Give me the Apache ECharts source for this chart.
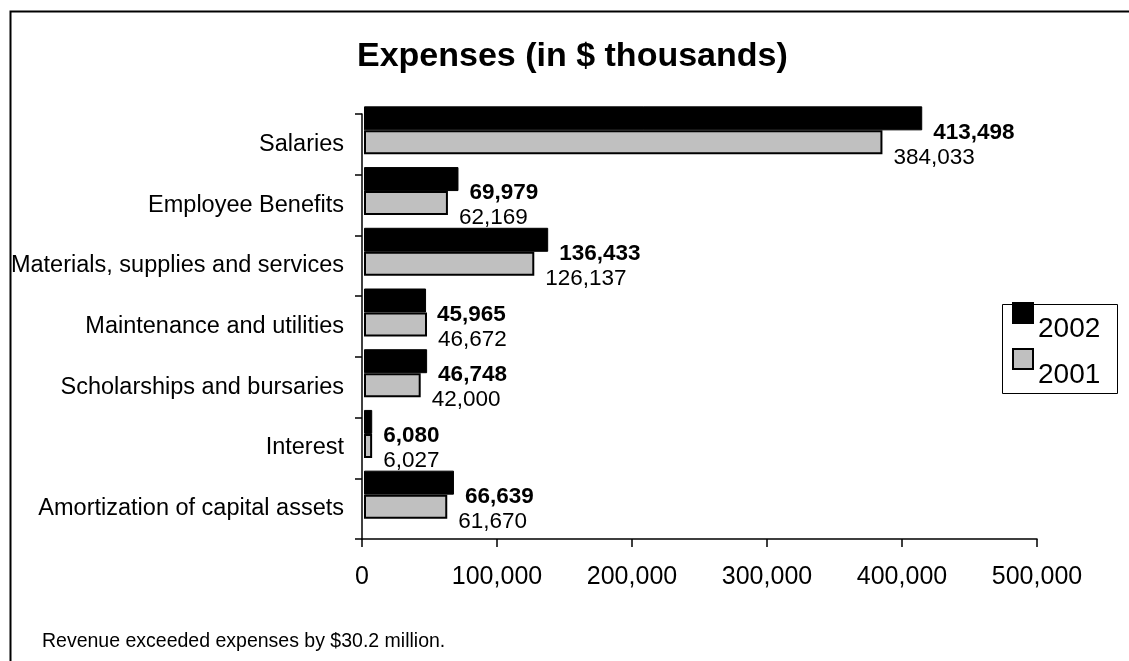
<!DOCTYPE html>
<html>
<head>
<meta charset="utf-8">
<script src="https://cdn.jsdelivr.net/npm/echarts@6/dist/echarts.min.js"></script>
<style>
html,body{margin:0;padding:0;background:#fff;}
#chart{width:1129px;height:661px;}
</style>
</head>
<body>
<div id="chart"></div>
<script>
const categories = ["Salaries","Employee Benefits","Materials, supplies and services","Maintenance and utilities","Scholarships and bursaries","Interest","Amortization of capital assets"];
const values2002 = [413498, 69979, 136433, 45965, 46748, 6080, 66639];
const values2001 = [384033, 62169, 126137, 46672, 42000, 6027, 61670];
const seriesNames = ["2002", "2001"];
const xTicks = [0, 100000, 200000, 300000, 400000, 500000];
const titleText = "Expenses (in $ thousands)";
const footnote = "Revenue exceeded expenses by $30.2 million.";

const FONT = "'Liberation Sans', Arial, Helvetica, sans-serif";
const fmt = v => Number(v).toLocaleString('en-US');

const chart = echarts.init(document.getElementById('chart'), null, {renderer: 'canvas'});
chart.setOption({
  backgroundColor: '#fff',
  animation: false,
  textStyle: {fontFamily: FONT, color: '#000'},
  title: [
    {text: titleText, left: 357, top: 40, padding: 0,
     textStyle: {fontFamily: FONT, fontSize: 34, fontWeight: 'bold', color: '#000'}},
    {text: footnote, left: 42, top: 632, padding: 0,
     textStyle: {fontFamily: FONT, fontSize: 19.5, fontWeight: 'normal', color: '#000'}}
  ],
  graphic: [
    {type: 'rect', left: 8, top: 9, z: -1, silent: true,
     shape: {x: 0, y: 0, width: 1300, height: 800},
     style: {fill: null, stroke: '#000', lineWidth: 2}},
    {type: 'rect', left: 1000, top: 302, z: -1, silent: true,
     shape: {x: 0, y: 0, width: 115, height: 89},
     style: {fill: null, stroke: '#000', lineWidth: 1}}
  ],
  legend: {
    orient: 'vertical', left: 1012, top: 302,
    padding: 0, itemGap: -8,
    itemWidth: 20, itemHeight: 52,
    icon: 'path://M0,0H20V20H0Z M0,52',
    data: seriesNames,
    textStyle: {fontFamily: FONT, fontSize: 28, color: '#000'}
  },
  grid: [
    {left: 362, right: 92, top: 114, bottom: 122, containLabel: false},
    {left: 364, right: 90, top: 100, bottom: 136, containLabel: false}
  ],
  xAxis: [
    {type: 'value', gridIndex: 0, min: xTicks[0], max: xTicks[xTicks.length-1], interval: 100000,
     axisLine: {show: true, lineStyle: {color: '#000', width: 1.5}},
     axisTick: {show: true, length: 8, lineStyle: {color: '#000', width: 1.5}},
     splitLine: {show: false},
     axisLabel: {fontFamily: FONT, fontSize: 25, color: '#000', margin: 26, formatter: v => fmt(v)}},
    {type: 'value', gridIndex: 1, min: xTicks[0], max: xTicks[xTicks.length-1], show: false,
     splitLine: {show: false}}
  ],
  yAxis: [
    {type: 'category', gridIndex: 0, data: categories, inverse: true,
     axisLine: {show: true, lineStyle: {color: '#000', width: 1.5}},
     axisTick: {show: true, length: 7, lineStyle: {color: '#000', width: 1.5}},
     axisLabel: {fontFamily: FONT, fontSize: 23.5, color: '#000', margin: 18, padding: [4, 0, 0, 0]}},
    {type: 'category', gridIndex: 1, data: categories, inverse: true, show: false}
  ],
  series: [
    {name: seriesNames[0], type: 'bar', xAxisIndex: 1, yAxisIndex: 1, data: values2002,
     barWidth: 24, barGap: '0%',
     itemStyle: {color: '#000', borderColor: '#000', borderWidth: 1},
     label: {show: true, position: 'right', distance: 11, offset: [0, 14],
             fontFamily: FONT, fontSize: 22.5, fontWeight: 'bold', color: '#000',
             formatter: p => fmt(p.value)}},
    {name: seriesNames[1], type: 'bar', xAxisIndex: 1, yAxisIndex: 1, data: values2001,
     barWidth: 24, barGap: '0%',
     itemStyle: {color: '#c0c0c0', borderColor: '#000', borderWidth: 2},
     label: {show: true, position: 'right', distance: 11, offset: [0, 15],
             fontFamily: FONT, fontSize: 22.5, fontWeight: 'normal', color: '#000',
             formatter: p => fmt(p.value)}}
  ]
});
</script>
</body>
</html>
